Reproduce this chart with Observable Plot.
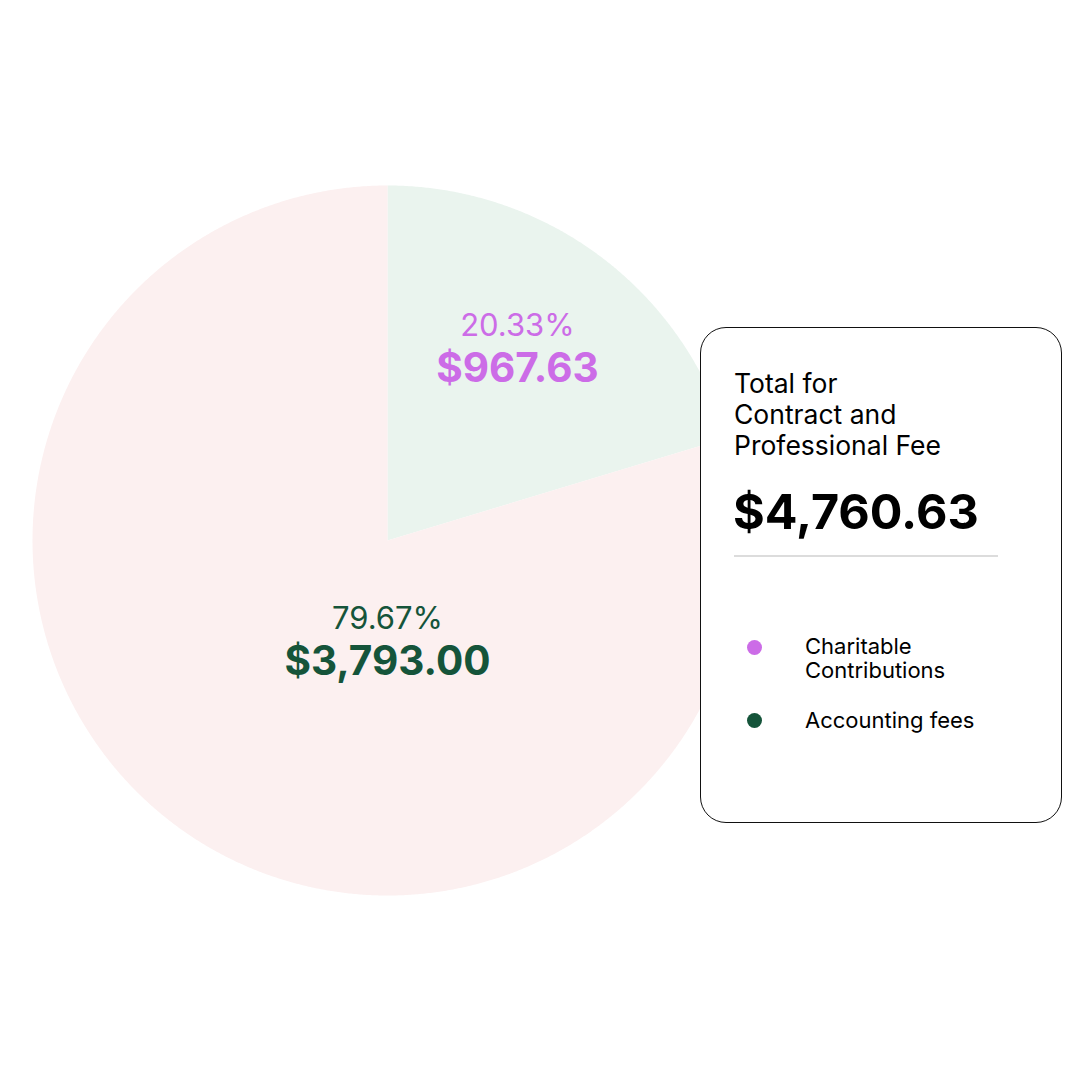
<!DOCTYPE html>
<html>
<head>
<meta charset="utf-8">
<script src="https://cdn.jsdelivr.net/npm/d3@7"></script>
<script src="https://cdn.jsdelivr.net/npm/@observablehq/plot@0.6"></script>
<style>
  html, body { margin: 0; padding: 0; background: #fff; }
  #wrap { position: relative; width: 1080px; height: 1080px; font-family: Inter, "Noto Sans", sans-serif; }
  #card {
    position: absolute; left: 700px; top: 327px; width: 360px; height: 494px;
    border: 1px solid #111; border-radius: 26px; background: #fff; box-sizing: content-box;
  }
  #card .title { position: absolute; left: 33px; top: 40px; font-size: 26.5px; line-height: 31px; color: #000; }
  #card .total { position: absolute; left: 32px; top: 154px; font-size: 48.5px; font-weight: 700; line-height: 60px; color: #000; }
  #card .rule { position: absolute; left: 33px; top: 227px; width: 264px; height: 2px; background: #dcdcdc; }
  #card .item { position: absolute; left: 33px; font-size: 22px; line-height: 24px; color: #000; }
  #card .dot { position: absolute; left: 13px; width: 15px; height: 15px; border-radius: 50%; }
  #card .label { position: absolute; left: 71px; top: 0; white-space: nowrap; }
</style>
</head>
<body>
<div id="wrap"></div>
<script>
// ---- data ----
const categories = ["Charitable Contributions", "Accounting fees"];
const legendLines = [["Charitable", "Contributions"], ["Accounting fees"]];
const values = [967.63, 3793.00];
const percentLabels = ["20.33%", "79.67%"];
const amountLabels = ["$967.63", "$3,793.00"];
const titleLines = ["Total for", "Contract and", "Professional Fee"];
const totalLabel = "$4,760.63";

// ---- styles ----
const sliceColors = ["#EAF4EE", "#FCF0F0"];
const labelColors = ["#CC6CE7", "#15543A"];
// label anchor per slice, in units of radius (layout, not data)
const labelAnchors = [[0.366, 0.545], [0, -0.28]];

const arcs = d3.pie().sort(null)(values);

// polygon points for each slice, derived from the pie angles
const polyPts = [];
arcs.forEach((a, i) => {
  polyPts.push({k: i, x: 0, y: 0});
  const n = Math.max(2, Math.ceil((a.endAngle - a.startAngle) / 0.005));
  for (let j = 0; j <= n; j++) {
    const t = a.startAngle + (a.endAngle - a.startAngle) * j / n;
    polyPts.push({k: i, x: Math.sin(t), y: Math.cos(t)});
  }
  polyPts.push({k: i, x: 0, y: 0});
});

const labels = arcs.map((a, i) => ({
  x: labelAnchors[i][0], y: labelAnchors[i][1],
  pct: percentLabels[i], amt: amountLabels[i], color: labelColors[i]
}));

const chart = Plot.plot({
  width: 1080, height: 1080,
  margin: 0,
  x: {domain: [-1, 1], range: [32, 742], axis: null},
  y: {domain: [-1, 1], range: [895, 185], axis: null},
  color: {type: "identity"},
  style: {background: "transparent", fontFamily: "Inter, 'Noto Sans', sans-serif"},
  marks: [
    Plot.line(polyPts, {x: "x", y: "y", z: "k", fill: d => sliceColors[d.k], stroke: "none", curve: "linear"}),
    Plot.text(labels, {x: "x", y: "y", text: "pct", fill: "color", fontSize: 31, dy: -21, fontWeight: 400}),
    Plot.text(labels, {x: "x", y: "y", text: "amt", fill: "color", fontSize: 40.5, dy: 22, fontWeight: 700})
  ]
});

const wrap = document.getElementById("wrap");
chart.style.position = "absolute";
chart.style.left = "0px";
chart.style.top = "0px";
wrap.appendChild(chart);

// card with total and legend
const card = document.createElement("div");
card.id = "card";
let html = `<div class="title">${titleLines.join("<br>")}</div>`;
html += `<div class="total">${totalLabel}</div>`;
html += `<div class="rule"></div>`;
const itemTops = [306, 380];
categories.forEach((c, i) => {
  html += `<div class="item" style="top:${itemTops[i]}px">
    <div class="dot" style="top:${i === 0 ? 6 : 5}px;background:${labelColors[i]}"></div>
    <div class="label">${legendLines[i].join("<br>")}</div>
  </div>`;
});
card.innerHTML = html;
wrap.appendChild(card);
</script>
</body>
</html>
